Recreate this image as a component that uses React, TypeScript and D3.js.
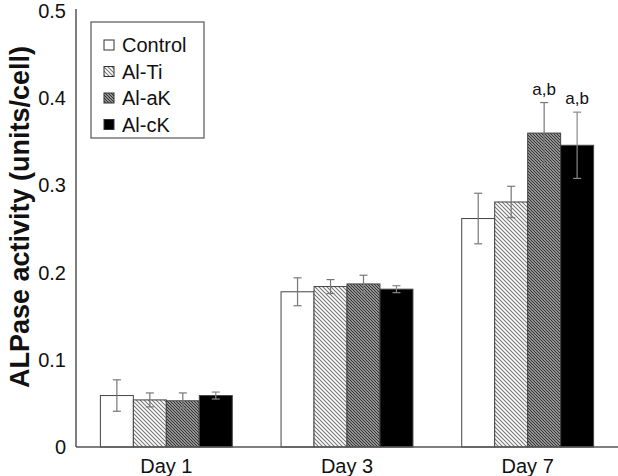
import React, { useEffect, useRef } from 'react';
import * as d3 from 'd3';

const days = ['Day 1', 'Day 3', 'Day 7'];
const groups = ['Control', 'Al-Ti', 'Al-aK', 'Al-cK'];

const controlMean = [0.059, 0.178, 0.262];
const alTiMean = [0.054, 0.184, 0.281];
const alAkMean = [0.053, 0.187, 0.36];
const alCkMean = [0.059, 0.181, 0.346];

const controlErr = [0.018, 0.016, 0.029];
const alTiErr = [0.008, 0.008, 0.018];
const alAkErr = [0.009, 0.01, 0.035];
const alCkErr = [0.004, 0.004, 0.038];

// significance marks, keyed by group then day
const alAkMarks = ['', '', 'a,b'];
const alCkMarks = ['', '', 'a,b'];

const yTicks = [0, 0.1, 0.2, 0.3, 0.4, 0.5];
const yTickLabels = ['0', '0.1', '0.2', '0.3', '0.4', '0.5'];

const means = [controlMean, alTiMean, alAkMean, alCkMean];
const errs = [controlErr, alTiErr, alAkErr, alCkErr];
const marks = [['', '', ''], ['', '', ''], alAkMarks, alCkMarks];
const fills = ['#ffffff', 'url(#hatchLight)', 'url(#hatchDark)', '#000000'];

const W = 618;
const H = 476;
const FONT = 'Liberation Sans, Arial, sans-serif';

const App = () => {
  const svgRef = useRef<SVGSVGElement | null>(null);

  useEffect(() => {
    if (!svgRef.current) return;
    const svg = d3.select(svgRef.current);
    svg.selectAll('*').remove();

    const left = 76;
    const right = 618;
    const top = 11;
    const bottom = 447;

    const x0 = d3.scaleBand<string>().domain(days).range([left, right])
      .paddingInner(0.27).paddingOuter(0.135);
    const x1 = d3.scaleBand<string>().domain(groups).range([0, x0.bandwidth()]);
    const y = d3.scaleLinear().domain([0, 0.5]).range([bottom, top]);

    // hatch patterns
    const defs = svg.append('defs');
    const light = defs.append('pattern')
      .attr('id', 'hatchLight')
      .attr('patternUnits', 'userSpaceOnUse')
      .attr('width', 4).attr('height', 4);
    light.append('rect').attr('width', 4).attr('height', 4).attr('fill', '#fff');
    light.append('path')
      .attr('d', 'M-1,-1 L5,5 M-1,3 L1,5 M3,-1 L5,1')
      .attr('stroke', '#777').attr('stroke-width', 1.1);

    const dark = defs.append('pattern')
      .attr('id', 'hatchDark')
      .attr('patternUnits', 'userSpaceOnUse')
      .attr('width', 3).attr('height', 3);
    dark.append('rect').attr('width', 3).attr('height', 3).attr('fill', '#ddd');
    dark.append('path')
      .attr('d', 'M-1,-1 L4,4 M-1,2 L1,4 M2,-1 L4,1')
      .attr('stroke', '#333').attr('stroke-width', 1.3);

    // bars
    groups.forEach((g, gi) => {
      const layer = svg.append('g');
      layer.selectAll('rect')
        .data(days)
        .join('rect')
        .attr('x', (d) => x0(d)! + x1(g)!)
        .attr('y', (_d, i) => y(means[gi][i]))
        .attr('width', x1.bandwidth())
        .attr('height', (_d, i) => bottom - y(means[gi][i]))
        .attr('fill', fills[gi])
        .attr('stroke', '#444')
        .attr('stroke-width', 1);
    });

    // error bars
    groups.forEach((g, gi) => {
      days.forEach((d, i) => {
        const cx = x0(d)! + x1(g)! + x1.bandwidth() / 2;
        const hi = y(means[gi][i] + errs[gi][i]);
        const lo = y(means[gi][i] - errs[gi][i]);
        const col = gi === 3 ? '#888' : '#777';
        svg.append('line').attr('x1', cx).attr('x2', cx).attr('y1', hi).attr('y2', lo)
          .attr('stroke', col).attr('stroke-width', 1.2);
        svg.append('line').attr('x1', cx - 4).attr('x2', cx + 4).attr('y1', hi).attr('y2', hi)
          .attr('stroke', col).attr('stroke-width', 1.2);
        svg.append('line').attr('x1', cx - 4).attr('x2', cx + 4).attr('y1', lo).attr('y2', lo)
          .attr('stroke', col).attr('stroke-width', 1.2);
        if (marks[gi][i]) {
          svg.append('text')
            .attr('x', cx)
            .attr('y', hi - 8)
            .attr('text-anchor', 'middle')
            .style('font-family', FONT)
            .style('font-size', '17px')
            .attr('fill', '#111')
            .text(marks[gi][i]);
        }
      });
    });

    // axes
    svg.append('line').attr('x1', left).attr('x2', left).attr('y1', top - 2).attr('y2', bottom)
      .attr('stroke', '#555').attr('stroke-width', 1.5);
    svg.append('line').attr('x1', left).attr('x2', right).attr('y1', bottom).attr('y2', bottom)
      .attr('stroke', '#555').attr('stroke-width', 1.5);

    svg.append('g')
      .selectAll('text')
      .data(yTicks)
      .join('text')
      .attr('x', 66)
      .attr('y', (d) => y(d))
      .attr('dy', '0.35em')
      .attr('text-anchor', 'end')
      .style('font-family', FONT)
      .style('font-size', '20px')
      .attr('fill', '#111')
      .text((_d, i) => yTickLabels[i]);

    svg.append('g')
      .selectAll('text')
      .data(days)
      .join('text')
      .attr('x', (d) => x0(d)! + x0.bandwidth() / 2)
      .attr('y', bottom + 26)
      .attr('text-anchor', 'middle')
      .style('font-family', FONT)
      .style('font-size', '20px')
      .attr('fill', '#111')
      .text((d) => d);

    svg.append('text')
      .attr('transform', `translate(29,217) rotate(-90)`)
      .attr('text-anchor', 'middle')
      .style('font-family', FONT)
      .style('font-size', '27px')
      .style('font-weight', 'bold')
      .attr('fill', '#111')
      .text('ALPase activity (units/cell)');

    // legend
    const lg = svg.append('g').attr('transform', 'translate(91,22)');
    lg.append('rect').attr('width', 113).attr('height', 116)
      .attr('fill', '#fff').attr('stroke', '#555').attr('stroke-width', 1.2);
    groups.forEach((g, gi) => {
      const cy = 23 + gi * 26.5;
      lg.append('rect')
        .attr('x', 13).attr('y', cy - 5)
        .attr('width', 10).attr('height', 10)
        .attr('fill', fills[gi])
        .attr('stroke', '#333').attr('stroke-width', 1);
      lg.append('text')
        .attr('x', 31).attr('y', cy)
        .attr('dy', '0.35em')
        .style('font-family', FONT)
        .style('font-size', '20px')
        .attr('fill', '#111')
        .text(g);
    });
  }, []);

  return (
    <svg
      ref={svgRef}
      width={W}
      height={H}
      style={{ position: 'absolute', left: 0, top: 0, background: '#fff' }}
    />
  );
};

export default App;
